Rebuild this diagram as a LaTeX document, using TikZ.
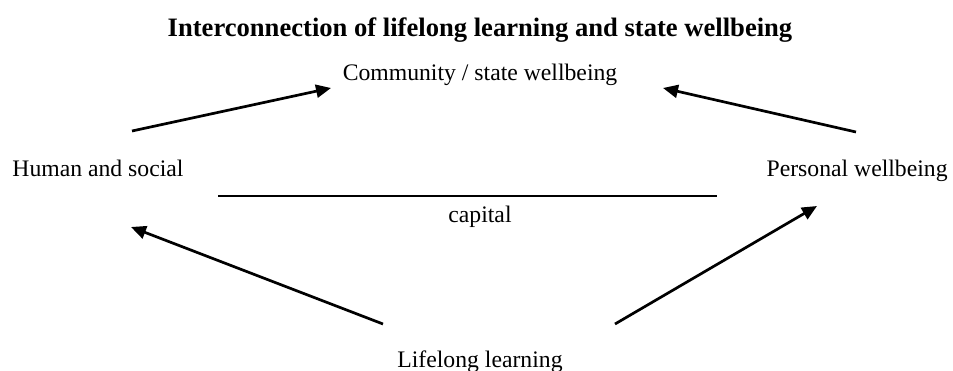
\documentclass[tikz,border=0pt]{standalone}
\usepackage{fontspec}
\setmainfont{Liberation Serif}
\usepackage{tikz}
\usetikzlibrary{arrows.meta}
\tikzset{
    txt/.style={inner sep=0pt, font=\fontsize{11.85}{14}\selectfont},
    headline/.style={inner sep=0pt, font=\fontsize{13.3}{16}\selectfont\bfseries},
    link/.style={draw=black, line width=1.35pt, -{Triangle[length=7.5pt,width=6.5pt]}},
    capline/.style={draw=black, line width=0.85pt},
}

\begin{document}
\begin{tikzpicture}[x=0.5pt,y=-0.5pt]
	\useasboundingbox (0,0) rectangle (953,370);
	% texts
	\node[headline, anchor=base] (title) at (480,36) {Interconnection of lifelong learning and state wellbeing};
	\node[txt, anchor=base] (community) at (480,80) {Community / state wellbeing};
	\node[txt, anchor=base west] (human) at (12,176) {Human and social};
	\node[txt, anchor=base east] (personal) at (948,176) {Personal wellbeing};
	\node[txt, anchor=base] (capital) at (480,222) {capital};
	\node[txt, anchor=base] (lifelong) at (480,367) {Lifelong learning};
	% arrow ends
	\coordinate (humanup) at (132,131);
	\coordinate (personalup) at (856,132);
	\coordinate (communityL) at (331,88);
	\coordinate (communityR) at (663,88);
	\coordinate (humandown) at (131,227);
	\coordinate (personaldown) at (817,206);
	\coordinate (lifelongL) at (383,324);
	\coordinate (lifelongR) at (615,324);
	\coordinate (capL) at (218,196);
	\coordinate (capR) at (717,196);
	\draw[link] (humanup) -- (communityL);
	\draw[link] (personalup) -- (communityR);
	\draw[link] (lifelongL) -- (humandown);
	\draw[link] (lifelongR) -- (personaldown);
	\draw[capline] (capL) -- (capR);
\end{tikzpicture}
\end{document}
